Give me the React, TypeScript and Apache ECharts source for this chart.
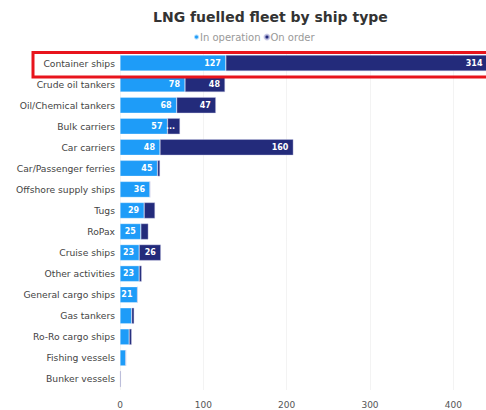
import React, { useEffect, useRef } from "react";
import * as echarts from "echarts";

const categories = [
  "Container ships",
  "Crude oil tankers",
  "Oil/Chemical tankers",
  "Bulk carriers",
  "Car carriers",
  "Car/Passenger ferries",
  "Offshore supply ships",
  "Tugs",
  "RoPax",
  "Cruise ships",
  "Other activities",
  "General cargo ships",
  "Gas tankers",
  "Ro-Ro cargo ships",
  "Fishing vessels",
  "Bunker vessels",
];
const inOperation = [127, 78, 68, 57, 48, 45, 36, 29, 25, 23, 23, 21, 14, 11, 7, 0];
const onOrder = [314, 48, 47, 15, 160, 3, 0, 13, 9, 26, 3, 0, 3, 3, 0, 1];
const xTicks = [0, 100, 200, 300, 400];

const labelFmt = (p: any) => {
  const v = p.value as number;
  if (v >= 20) return String(v);
  if (v >= 15) return "...";
  return "";
};

export default function App() {
  const ref = useRef<HTMLDivElement>(null);
  useEffect(() => {
    if (!ref.current) return;
    const chart = echarts.init(ref.current, undefined, { renderer: "svg" });
    const font = "'DejaVu Sans', Verdana, sans-serif";
    const valueLabel = {
      show: true,
      position: "insideRight",
      color: "#fff",
      fontSize: 8,
      fontWeight: "bold",
      fontFamily: font,
      formatter: labelFmt,
      distance: 5,
    };
    chart.setOption({
      animation: false,
      textStyle: { fontFamily: font },
      title: {
        text: "LNG fuelled fleet by ship type",
        left: 148,
        top: 5,
        textStyle: { fontSize: 14, fontWeight: "bold", color: "#333", fontFamily: font },
      },
      legend: {
        top: 27,
        left: 188,
        itemGap: 3,
        orient: "horizontal",
        icon: "circle",
        itemWidth: 5,
        itemHeight: 5,
        textStyle: { color: "#999", fontSize: 10, fontFamily: font, padding: [0, 0, 0, -4] },
        data: ["In operation", "On order"],
      },
      grid: { left: 120, top: 52.5, width: 375, height: 337, outerBoundsMode: "none", containLabel: false },
      xAxis: {
        type: "value",
        min: 0,
        max: 450,
        interval: 100,
        axisLine: { show: false },
        axisTick: { show: false },
        axisLabel: {
          color: "#555",
          fontSize: 9,
          margin: 11,
          formatter: (v: number) => (xTicks.includes(v) ? String(v) : ""),
        },
        splitLine: { show: true, lineStyle: { color: "#e6e6e6", type: "dotted" } },
      },
      yAxis: {
        type: "category",
        data: categories,
        inverse: true,
        axisLine: { show: false },
        axisTick: { show: false },
        axisLabel: { color: "#444", fontSize: 9.2, margin: 5 },
      },
      series: [
        {
          name: "In operation",
          type: "bar",
          stack: "total",
          data: inOperation,
          barWidth: 16,
          itemStyle: { color: "#1e9cf8", borderColor: "rgba(255,255,255,0.6)", borderWidth: 0.5 },
          label: valueLabel,
        },
        {
          name: "On order",
          type: "bar",
          stack: "total",
          data: onOrder,
          barWidth: 16,
          itemStyle: { color: "#232b7b", borderColor: "rgba(200,200,230,0.8)", borderWidth: 0.5 },
          label: valueLabel,
        },
      ],
      graphic: [
        {
          type: "rect",
          shape: { x: 33, y: 52.5, width: 470, height: 24.5 },
          style: { fill: "none", stroke: "#e8141c", lineWidth: 3 },
          z: 100,
        },
      ],
    });
    return () => chart.dispose();
  }, []);
  return (
    <div
      ref={ref}
      style={{ position: "fixed", left: 0, top: 0, width: 486, height: 410, background: "#fff" }}
    />
  );
}
